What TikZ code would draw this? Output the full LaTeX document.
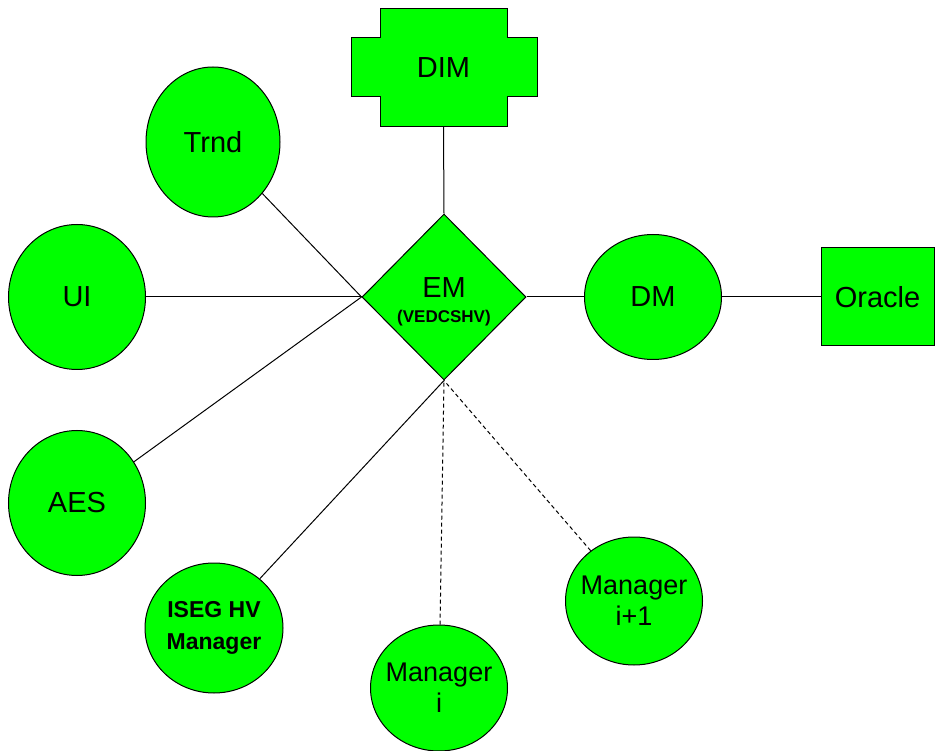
\documentclass[tikz,border=0pt]{standalone}
\usepackage{fontspec}
\setmainfont{Liberation Sans}
\usetikzlibrary{shapes.geometric}
\definecolor{ngreen}{RGB}{0,255,0}
\begin{document}
\begin{tikzpicture}[x=1pt,y=-1pt,
  box/.style={draw=black,fill=ngreen,line width=1pt},
  oval/.style={box,ellipse,inner sep=-25pt,align=center,font=\fontsize{29}{31}\selectfont},
  conn/.style={line width=1pt,draw=black},
  dconn/.style={conn,dash pattern=on 4pt off 3pt}]
\useasboundingbox (0,0) rectangle (935,751);
% DIM cross shape
\draw[box] (380,9) -- (507,9) -- (507,38) -- (537,38) -- (537,97) -- (507,97) -- (507,127)
  -- (380,127) -- (380,97) -- (351,97) -- (351,38) -- (380,38) -- cycle;
\node[minimum width=127pt,minimum height=118pt,inner sep=0pt,font=\fontsize{29}{31}\selectfont] (dim) at (443.5,68) {DIM};
% EM diamond
\node[box,diamond,minimum width=164pt,minimum height=166pt,inner sep=0pt] (em) at (444,297) {};
\node[font=\fontsize{29}{31}\selectfont] (emt) at (444,288) {EM};
\node[font=\bfseries\fontsize{17}{19}\selectfont] (ems) at (444,318) {(VEDCSHV)};
% ellipses
\node[oval,minimum width=134pt,minimum height=150pt] (trnd) at (213,142) {Trnd};
\node[oval,minimum width=137pt,minimum height=145pt] (ui) at (77,297) {UI};
\node[oval,minimum width=137pt,minimum height=145pt] (aes) at (77,503) {AES};
\node[oval,minimum width=138pt,minimum height=130pt,font=\bfseries\fontsize{23}{32}\selectfont] (iseg) at (214,628) {ISEG HV\\Manager};
\node[oval,minimum width=137pt,minimum height=126pt,font=\fontsize{27}{31}\selectfont] (mi) at (439,688) {Manager\\i};
\node[oval,minimum width=137pt,minimum height=128pt,font=\fontsize{27}{31}\selectfont] (mi1) at (634,601) {Manager\\i+1};
\node[oval,minimum width=137pt,minimum height=125pt] (dm) at (653,297) {DM};
\node[box,minimum width=113pt,minimum height=98pt,inner sep=0pt,font=\fontsize{29}{31}\selectfont] (oracle) at (877.5,297) {Oracle};
% connectors
\draw[conn] (dim.south) -- (em.north);
\draw[conn] (trnd) -- (em.west);
\draw[conn] (ui) -- (em.west);
\draw[conn] (aes) -- (em.west);
\draw[conn] (iseg) -- (em.south);
\draw[dconn] (mi) -- (em.south);
\draw[dconn] (mi1) -- (em.south);
\draw[conn] (em.east) -- (dm);
\draw[conn] (dm) -- (oracle);
\end{tikzpicture}
\end{document}
